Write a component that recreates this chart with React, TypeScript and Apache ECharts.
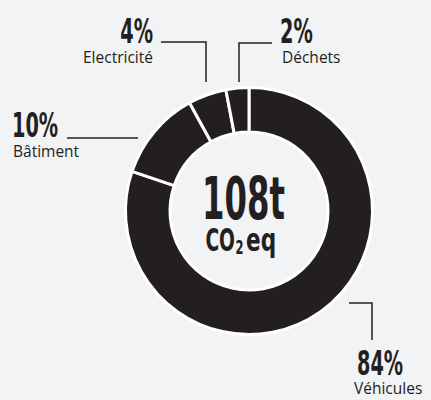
import React, { useEffect, useRef } from "react";
import * as echarts from "echarts";

const categories = ["Véhicules", "Bâtiment", "Electricité", "Déchets"];
const percentLabels = [84, 10, 4, 2];
// arc sizes as drawn in the picture (measured angles converted to shares)
const arcShares = [80.2, 11.8, 5.0, 3.0];
const totalLabel = "108t";
const unitMain = "CO";
const unitSub = "2";
const unitTail = "eq";

const INK = "#231f20";
const BG = "#f2f3f5";
const CONDENSED = "'DejaVu Sans Condensed', 'DejaVu Sans', sans-serif";
const SANS = "'Open Sans', 'Noto Sans', sans-serif";

// layout of the annotations (name label, leader line, percentage)
const nameLayouts = [
  { x: 354, y: 380, align: "left", line: [[349, 303], [372, 303], [372, 340]] },
  { x: 13, y: 143, align: "left", line: [[138, 138], [100, 138], [67, 138]] },
  { x: 153, y: 49, align: "right", line: [[206, 82], [206, 42], [161, 42]] },
  { x: 282, y: 49, align: "left", line: [[239, 82], [239, 43], [272, 43]] },
];
const pctLayouts = [
  { x: 357, y: 347, align: "left" },
  { x: 12, y: 108.5, align: "left" },
  { x: 153, y: 15, align: "right" },
  { x: 280, y: 15, align: "left" },
];

export default function App() {
  const ref = useRef<HTMLDivElement>(null);
  useEffect(() => {
    if (!ref.current) return;
    const chart = echarts.init(ref.current, null, { renderer: "svg" });
    chart.setOption({
      animation: false,
      backgroundColor: BG,
      series: [
        {
          type: "pie",
          center: [249, 211],
          radius: [79, 123.5],
          startAngle: 90,
          clockwise: true,
          silent: true,
          itemStyle: { color: INK, borderColor: "#ffffff", borderWidth: 3 },
          data: categories.map((name, i) => ({ name, value: arcShares[i] })),
          label: {
            show: true,
            position: "outside",
            overflow: "none",
            formatter: (p: any) => p.name,
            fontFamily: SANS,
            fontSize: 15.5,
            lineHeight: 16,
            color: INK,
          },
          labelLine: { show: true, lineStyle: { color: INK, width: 1.5 } },
          labelLayout: (params: any) => {
            const L = nameLayouts[params.dataIndex];
            return { x: L.x, y: L.y, align: L.align, verticalAlign: "top", labelLinePoints: L.line };
          },
        },
      ],
      graphic: [
        ...categories.map((_, i) => ({
          type: "text",
          x: pctLayouts[i].x,
          y: pctLayouts[i].y,
          scaleX: 0.63,
          silent: true,
          style: {
            text: `${percentLabels[i]}%`,
            font: `bold 34px ${CONDENSED}`,
            fill: INK,
            textAlign: pctLayouts[i].align,
            textVerticalAlign: "top",
          },
        })),
        {
          type: "text",
          x: 243.5,
          y: 170,
          scaleX: 0.62,
          style: {
            text: totalLabel,
            font: `bold 58px ${CONDENSED}`,
            fill: INK,
            textAlign: "center",
            textVerticalAlign: "top",
          },
        },
        {
          type: "text",
          x: 235,
          y: 224,
          scaleX: 0.65,
          style: { text: unitMain, font: `bold 32px ${CONDENSED}`, fill: INK, textAlign: "right", textVerticalAlign: "top" },
        },
        {
          type: "text",
          x: 235.5,
          y: 236.5,
          scaleX: 0.64,
          style: { text: unitSub, font: `bold 20px ${CONDENSED}`, fill: INK, textAlign: "left", textVerticalAlign: "top" },
        },
        {
          type: "text",
          x: 246,
          y: 224,
          scaleX: 0.75,
          style: { text: unitTail, font: `bold 32px ${CONDENSED}`, fill: INK, textAlign: "left", textVerticalAlign: "top" },
        },
      ],
    });
    return () => chart.dispose();
  }, []);
  return (
    <div
      ref={ref}
      style={{ position: "absolute", left: 0, top: 0, width: 431, height: 400 }}
    />
  );
}
